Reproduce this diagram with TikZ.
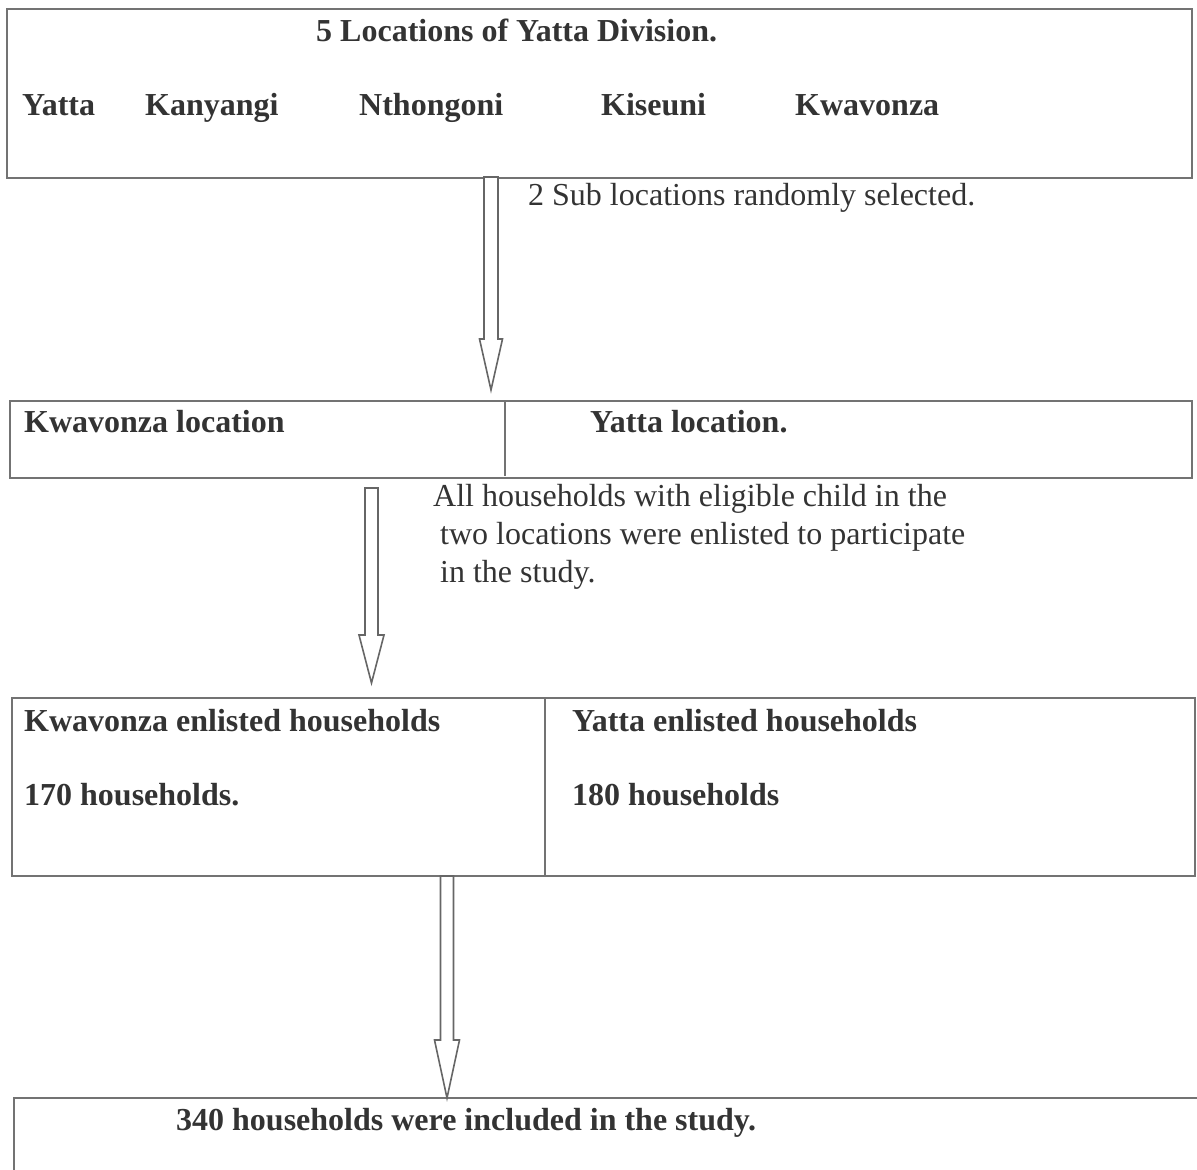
\documentclass[tikz,border=0pt]{standalone}
\usepackage{fontspec}
\setmainfont{Liberation Serif}
\begin{document}
\begin{tikzpicture}[x=1pt,y=-1pt,
  box/.style={draw=black!55,line width=1.4pt},
  lbl/.style={anchor=base west,inner sep=0pt,text=black!80,font=\fontsize{32}{38}\selectfont\bfseries},
  plain/.style={anchor=base west,inner sep=0pt,text=black!80,font=\fontsize{32}{38}\selectfont},
  barrow/.style={draw=black!60,line width=1.6pt,fill=white,line join=miter}]
\useasboundingbox (0,0) rectangle (1197,1170);
\clip (0,0) rectangle (1197,1170);
% boxes
\draw[box] (7,9) rectangle (1192,178);
\coordinate (b1s) at (491,177);
\draw[box] (10,401) rectangle (1192,478);
\draw[box] (505,401) -- (505,476);
\coordinate (b2n) at (491,390);
\coordinate (b2s) at (371.5,488);
\draw[box] (12,698) rectangle (1195,876);
\draw[box] (545,698) -- (545,876);
\coordinate (b3n) at (371.5,683);
\coordinate (b3s) at (447,876);
\draw[box] (14,1098) rectangle (1210,1190);
\coordinate (b4n) at (447,1098);
% texts box 1
\node[lbl] (t1) at (316,41) {5 Locations of Yatta Division.};
\node[lbl] (l1) at (22,115) {Yatta};
\node[lbl] (l2) at (145,115) {Kanyangi};
\node[lbl] (l3) at (359,115) {Nthongoni};
\node[lbl] (l4) at (601,115) {Kiseuni};
\node[lbl] (l5) at (795,115) {Kwavonza};
\node[plain] (s1) at (528,205) {2 Sub locations randomly selected.};
% box 2
\node[lbl] (k1) at (24,432) {Kwavonza location};
\node[lbl] (y1) at (590,432) {Yatta location.};
\node[plain] (p1) at (433,506) {All households with eligible child in the};
\node[plain] (p2) at (440,544) {two locations were enlisted to participate};
\node[plain] (p3) at (440,582) {in the study.};
% box 3
\node[lbl] (k2) at (24,731) {Kwavonza enlisted households};
\node[lbl] (k3) at (24,805) {170 households.};
\node[lbl] (y2) at (572,731) {Yatta enlisted households};
\node[lbl] (y3) at (572,805) {180 households};
% box 4
\node[lbl] (f1) at (176,1130) {340 households were included in the study.};
% block arrows
\draw[barrow] ([xshift=-7pt]b1s) -- ([xshift=-7pt]b1s |- 0,339) -- ([xshift=-11.5pt]b1s |- 0,339)
  -- (b2n) -- ([xshift=11.5pt]b1s |- 0,339) -- ([xshift=7pt]b1s |- 0,339) -- ([xshift=7pt]b1s) -- cycle;
\draw[barrow] ([xshift=-6.5pt]b2s) -- ([xshift=-6.5pt]b2s |- 0,635) -- ([xshift=-12.5pt]b2s |- 0,635)
  -- (b3n) -- ([xshift=12.5pt]b2s |- 0,635) -- ([xshift=6.5pt]b2s |- 0,635) -- ([xshift=6.5pt]b2s) -- cycle;
\draw[barrow] ([xshift=-6.5pt]b3s) -- ([xshift=-6.5pt]b3s |- 0,1040) -- ([xshift=-12.5pt]b3s |- 0,1040)
  -- (b4n) -- ([xshift=12.5pt]b3s |- 0,1040) -- ([xshift=6.5pt]b3s |- 0,1040) -- ([xshift=6.5pt]b3s) -- cycle;
\end{tikzpicture}
\end{document}
